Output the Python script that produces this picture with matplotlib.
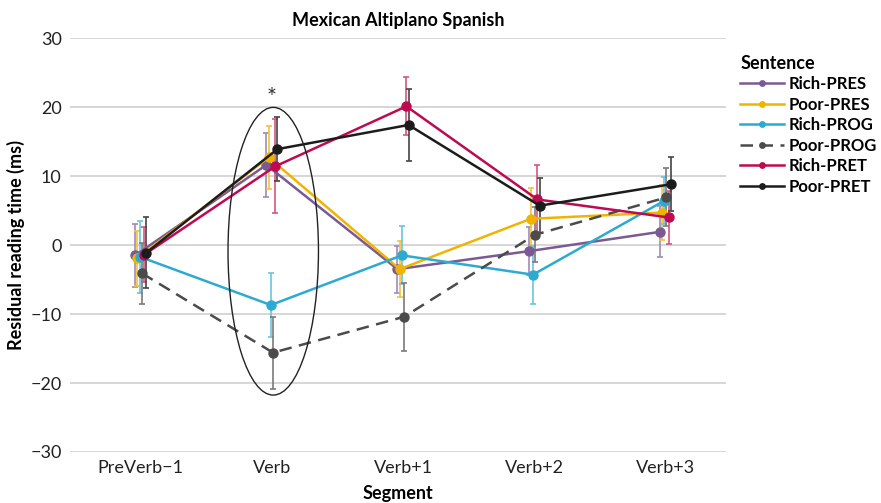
import numpy as np
import matplotlib
matplotlib.use('Agg')
import matplotlib.pyplot as plt
from matplotlib.patches import Ellipse

plt.rcParams['font.family'] = ['Lato', 'DejaVu Sans']

# data
segments = ['PreVerb\u22121', 'Verb', 'Verb+1', 'Verb+2', 'Verb+3']
series = ['Rich-PRES', 'Poor-PRES', 'Rich-PROG', 'Poor-PROG', 'Rich-PRET', 'Poor-PRET']

rich_pres = [-1.5, 11.6, -3.5, -0.9, 1.9]
poor_pres = [-1.9, 12.7, -3.5, 3.8, 4.7]
rich_prog = [-1.7, -8.7, -1.5, -4.3, 6.4]
poor_prog = [-4.1, -15.6, -10.4, 1.5, 6.9]
rich_pret = [-1.4, 11.4, 20.1, 6.6, 4.0]
poor_pret = [-1.1, 13.9, 17.4, 5.7, 8.8]

rich_pres_err = [4.6, 4.6, 3.4, 3.5, 3.7]
poor_pres_err = [4.0, 4.6, 4.1, 4.4, 4.0]
rich_prog_err = [5.2, 4.6, 4.2, 4.2, 3.4]
poor_prog_err = [4.4, 5.2, 4.9, 4.0, 4.2]
rich_pret_err = [4.0, 6.8, 4.2, 5.0, 3.8]
poor_pret_err = [5.1, 4.6, 5.2, 4.0, 3.9]

values = [rich_pres, poor_pres, rich_prog, poor_prog, rich_pret, poor_pret]
errors = [rich_pres_err, poor_pres_err, rich_prog_err, poor_prog_err, rich_pret_err, poor_pret_err]
colors = ['#7b5a93', '#f0b400', '#2ea9d2', '#4b4b4b', '#be0a50', '#1c1c1c']
err_colors = ['#a18bb5', '#f2c23a', '#6cc3e0', '#7a7a7a', '#d6557f', '#444444']
styles = ['-', '-', '-', '--', '-', '-']

fig = plt.figure(figsize=(8.81, 5.03), dpi=100)
ax = fig.add_axes([0.0795, 0.1014, 0.744, 0.823])

x = np.arange(len(segments))
for i, name in enumerate(series):
    xs = x + (i - 2.5) * 0.017
    ax.errorbar(xs, values[i], yerr=errors[i], fmt='none', ecolor=err_colors[i],
                elinewidth=1.2, capsize=2, capthick=1.2, zorder=2)
    ax.plot(xs, values[i], color=colors[i], linestyle=styles[i], linewidth=1.8,
            marker='o', markersize=6.5, label=name, zorder=3,
            dashes=(5, 3) if styles[i] == '--' else (None, None))

# ellipse around the Verb segment
ax.add_patch(Ellipse((1.01, -0.9), 0.69, 41.7, fill=False, edgecolor='#222222', linewidth=1.0, zorder=4))
ax.text(1.0, 19.8, '*', ha='center', va='bottom', fontsize=17, color='#333333')

ax.set_xlim(-0.54, 4.46)
ax.set_ylim(-30, 30)
ax.set_yticks([-30, -20, -10, 0, 10, 20, 30])
ax.set_yticklabels(['\u221230', '\u221220', '\u221210', '0', '10', '20', '30'])
ax.set_xticks(x)
ax.set_xticklabels(segments)
ax.tick_params(length=0, labelsize=13, colors='#222222', pad=6)
ax.grid(axis='y', color='#d0d0d0', linewidth=1.2)
ax.set_axisbelow(True)
for s in ax.spines.values():
    s.set_visible(False)

ax.set_title('Mexican Altiplano Spanish', fontsize=13, fontweight='bold', pad=9)
ax.set_xlabel('Segment', fontsize=13, fontweight='bold', labelpad=6)
ax.set_ylabel('Residual reading time (ms)', fontsize=13, fontweight='bold', labelpad=4)

leg = ax.legend(title='Sentence', loc='upper left', bbox_to_anchor=(1.01, 0.98), frameon=False,
                prop={'weight': 'bold', 'size': 12}, handlelength=2.6, handletextpad=0.3,
                labelspacing=0.27, markerscale=0.6, borderpad=0)
leg.get_title().set_fontweight('bold')
leg.get_title().set_fontsize(13)
leg._legend_box.align = 'left'

fig.savefig('out.png', dpi=100)
